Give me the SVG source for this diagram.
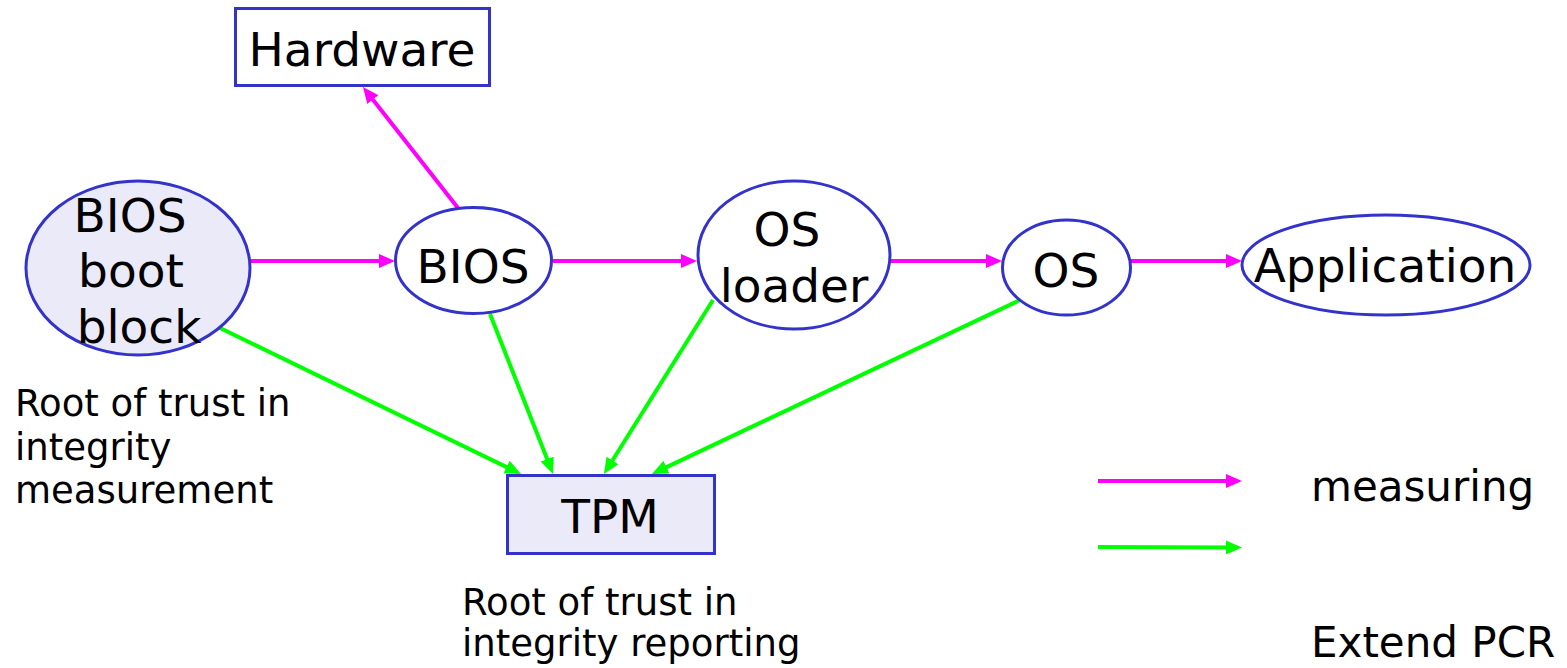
<svg xmlns="http://www.w3.org/2000/svg" width="1567" height="668" viewBox="0 0 1567 668">
<style>
.box{stroke:#3333cc;stroke-width:3}
.lbl{font-family:"DejaVu Sans","Verdana",sans-serif;font-size:47px;fill:#000;text-anchor:middle}
.note{font-family:"DejaVu Sans","Verdana",sans-serif;font-size:37px;fill:#000}
.leg{font-family:"DejaVu Sans","Verdana",sans-serif;font-size:42px;fill:#000}
.m{stroke:#ff00ff;stroke-width:4;fill:none;marker-end:url(#am)}
.g{stroke:#00ff00;stroke-width:4;fill:none;marker-end:url(#ag)}
</style>
<defs>
<marker id="am" viewBox="0 0 10 10" refX="5" refY="5" markerWidth="4" markerHeight="3.5" orient="auto" preserveAspectRatio="none"><path d="M0,0 L10,5 L0,10 z" fill="#ff00ff"/></marker>
<marker id="ag" viewBox="0 0 10 10" refX="5" refY="5" markerWidth="4" markerHeight="3.5" orient="auto" preserveAspectRatio="none"><path d="M0,0 L10,5 L0,10 z" fill="#00ff00"/></marker>
</defs>
<rect width="1567" height="668" fill="#ffffff"/>
<g id="connectors">
<path class="m" d="M251,261 L387,261"/>
<path class="m" d="M553,261 L689,261"/>
<path class="m" d="M891,261 L994,261"/>
<path class="m" d="M1131,261 L1234,261"/>
<path class="m" d="M458,208 L367.9,93.3"/>
<path class="g" d="M220,328 L513.8,470.5"/>
<path class="g" d="M490,314 L550.1,466.6"/>
<path class="g" d="M713,300 L608.2,467.2"/>
<path class="g" d="M1020,300 L659.2,470.6"/>
</g>
<g id="hardware"><rect class="box" x="235.5" y="8.5" width="254" height="77" fill="#ffffff"/><text class="lbl" x="362" y="66">Hardware</text></g>
<g id="bootblock"><ellipse class="box" cx="138" cy="268" rx="112" ry="87" fill="#eaeaf8"/><text class="lbl" x="130" y="232">BIOS</text><text class="lbl" x="131" y="287">boot</text><text class="lbl" x="139" y="343">block</text></g>
<g id="bios"><ellipse class="box" cx="473.5" cy="260.5" rx="78" ry="53" fill="#ffffff"/><text class="lbl" x="473" y="283">BIOS</text></g>
<g id="osloader"><ellipse class="box" cx="794" cy="255" rx="96" ry="74" fill="#ffffff"/><text class="lbl" x="787" y="246">OS</text><text class="lbl" x="794" y="302">loader</text></g>
<g id="os"><ellipse class="box" cx="1066.5" cy="267.5" rx="64" ry="47.5" fill="#ffffff"/><text class="lbl" x="1066" y="287">OS</text></g>
<g id="application"><ellipse class="box" cx="1386" cy="265" rx="144" ry="50" fill="#ffffff"/><text class="lbl" x="1385" y="282">Application</text></g>
<g id="tpm"><rect class="box" x="507.5" y="475.5" width="207" height="78" fill="#eaeaf8"/><text class="lbl" x="610" y="533">TPM</text></g>
<g id="notes">
<text class="note" x="15" y="416">Root of trust in</text>
<text class="note" x="15" y="460">integrity</text>
<text class="note" x="15" y="503">measurement</text>
<text class="note" x="462" y="615">Root of trust in</text>
<text class="note" x="462" y="656">integrity reporting</text>
</g>
<g id="legend">
<path class="m" d="M1098,481 L1234,481"/>
<path class="g" d="M1098,547 L1234,547.5"/>
<text class="leg" x="1311" y="501">measuring</text>
<text class="leg" x="1311" y="657">Extend PCR</text>
</g>
</svg>
